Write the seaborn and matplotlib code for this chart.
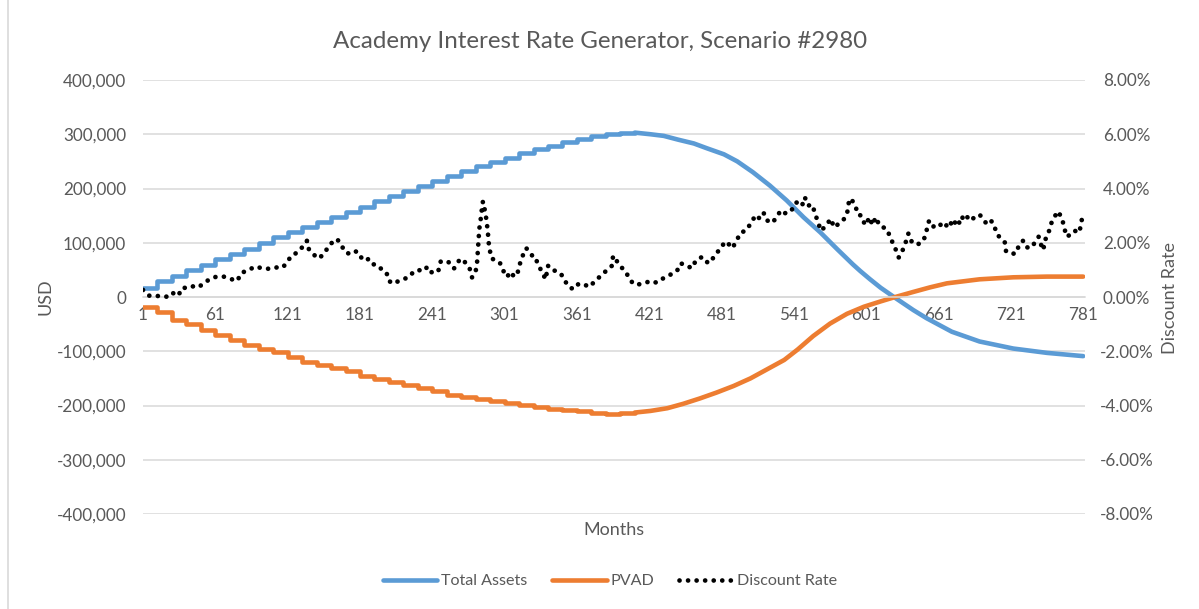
import numpy as np
import pandas as pd
import seaborn as sns
import matplotlib
matplotlib.use("Agg")
import matplotlib.pyplot as plt
from matplotlib.lines import Line2D
from matplotlib.ticker import FuncFormatter

# ---------------- data ----------------
title = "Academy Interest Rate Generator, Scenario #2980"
x_ticks = [1, 61, 121, 181, 241, 301, 361, 421, 481, 541, 601, 661, 721, 781]

# Total Assets: yearly step values (years 0..33, month 1 + 12*k)
assets_step_months = [1 + 12 * k for k in range(34)]
assets_step_values = [17000, 29500, 39000, 49500, 59500, 70000, 79000, 88500, 99000, 110000,
                      119000, 128500, 138000, 148000, 156500, 166000, 176500, 185500, 195000, 204000,
                      213000, 222500, 232000, 241000, 249000, 257000, 265000, 272000, 278000, 286000,
                      292000, 296000, 300000, 302000]
# Total Assets: payout phase
assets_tail_months = [409, 422, 433, 445, 458, 469, 483, 494, 507, 521, 535, 549, 563, 577, 590,
                      596, 604, 613, 624, 640, 651, 672, 695, 723, 751, 781]
assets_tail_values = [303000, 300000, 297000, 290000, 283000, 274000, 263000, 250000, 230000, 205500,
                      178000, 147000, 119000, 88000, 60000, 48000, 33000, 17000, 0, -24000,
                      -39000, -64000, -82000, -95000, -103000, -109000]

# PVAD: yearly step values then smooth rise
pvad_step_months = [1 + 12 * k for k in range(34)]
pvad_step_values = [-18500, -27700, -41600, -50000, -61000, -70000, -79000, -88000, -96000, -102000,
                    -111000, -119000, -125000, -131000, -137000, -145000, -151000, -157000, -163000, -168000,
                    -174000, -180000, -184000, -188000, -192000, -195000, -199000, -203000, -207000, -209000,
                    -211000, -214000, -215000, -214000]
pvad_tail_months = [409, 422, 436, 449, 463, 477, 491, 505, 519, 533, 544, 557, 571, 585, 599,
                    613, 624, 640, 654, 668, 695, 723, 751, 781]
pvad_tail_values = [-213000, -210000, -205000, -197000, -187000, -176000, -164000, -150000, -133000,
                    -116000, -97000, -72000, -49000, -31000, -18000, -8100, -700, 9300, 17800,
                    25200, 32600, 36300, 37600, 37600]

# Discount rate (%)
rate_months = [1, 6, 12, 17, 23, 26, 30, 34, 38, 43, 47, 54, 58, 62, 68, 75, 79, 83, 87, 94,
               101, 106, 112, 117, 121, 124, 129, 133, 137, 138, 142, 147, 152, 155, 158, 162, 165, 169, 172, 176,
               180, 182, 185, 188, 191, 195, 199, 203, 205, 209, 213, 217, 222, 226, 231, 234, 237, 241, 246, 248,
               254, 259, 264, 267, 270, 272, 274, 277, 278, 279, 280, 281, 282, 283, 285, 286, 287, 288, 290, 294,
               297, 300, 303, 306, 309, 312, 314, 317, 319, 324, 326, 329, 332, 335, 337, 340, 344, 348, 350, 353,
               356, 360, 362, 366, 371, 377, 382, 386, 390, 391, 394, 398, 401, 405, 408, 413, 417, 422, 427, 431,
               438, 444, 447, 452, 456, 460, 465, 470, 472, 477, 480, 485, 488, 490, 493, 497, 501, 503, 506, 509,
               513, 516, 518, 523, 527, 530, 533, 537, 539, 542, 546, 548, 550, 553, 556, 559, 561, 564, 567, 572,
               574, 579, 582, 585, 587, 589, 592, 594, 597, 600, 604, 606, 609, 612, 615, 618, 621, 624, 626, 628,
               631, 634, 636, 639, 643, 647, 649, 651, 653, 656, 660, 664, 666, 670, 673, 676, 679, 681, 683, 687,
               691, 695, 698, 700, 703, 707, 709, 713, 716, 717, 721, 725, 728, 731, 733, 737, 740, 744, 746, 748,
               749, 752, 754, 757, 760, 763, 765, 767, 772, 774, 778, 779, 781]
rate_values = [0.26, 0.05, 0.04, 0.03, 0.00, 0.14, 0.04, 0.35, 0.32, 0.40, 0.36, 0.59, 0.69, 0.75, 0.75, 0.65, 0.59, 0.90, 0.96, 1.12,
               1.05, 1.04, 1.09, 1.09, 1.31, 1.52, 1.64, 1.83, 2.07, 1.80, 1.58, 1.42, 1.64, 1.89, 2.01, 2.14, 1.95, 1.64, 1.60, 1.70,
               1.64, 1.46, 1.33, 1.40, 1.21, 1.19, 1.02, 0.90, 0.59, 0.49, 0.59, 0.65, 0.75, 0.96, 0.99, 0.96, 1.12, 0.88, 0.96, 1.31,
               1.31, 1.05, 1.40, 1.36, 1.15, 1.05, 0.72, 0.96, 1.17, 1.85, 2.51, 2.81, 3.19, 3.52, 3.12, 2.81, 2.44, 1.90, 1.43, 1.33,
               1.27, 0.96, 0.74, 0.93, 0.74, 0.93, 1.27, 1.64, 1.80, 1.52, 1.51, 1.17, 0.93, 0.65, 1.15, 0.99, 0.96, 0.84, 0.65, 0.47,
               0.32, 0.32, 0.47, 0.49, 0.37, 0.62, 0.84, 0.99, 1.15, 1.52, 1.33, 1.09, 0.96, 0.65, 0.47, 0.47, 0.51, 0.59, 0.53, 0.65,
               0.81, 0.96, 1.24, 1.17, 1.06, 1.36, 1.48, 1.24, 1.33, 1.60, 1.83, 2.05, 1.89, 1.80, 2.05, 2.38, 2.44, 2.57, 2.75, 3.02,
               2.88, 3.09, 2.84, 2.73, 2.96, 3.19, 3.09, 3.10, 3.19, 3.46, 3.53, 3.40, 3.68, 3.37, 3.41, 3.04, 2.72, 2.44, 2.63, 2.88,
               2.57, 2.72, 2.84, 3.04, 3.62, 3.58, 3.37, 3.04, 3.00, 2.65, 2.94, 2.65, 2.94, 2.63, 2.57, 2.51, 2.20, 1.89, 1.70, 1.46,
               1.70, 2.05, 2.34, 2.01, 1.93, 2.01, 2.14, 2.44, 2.79, 2.57, 2.72, 2.63, 2.54, 2.81, 2.59, 2.88, 2.69, 2.94, 3.06, 2.81,
               2.94, 3.04, 2.88, 2.75, 2.88, 2.69, 2.34, 2.14, 2.01, 1.68, 1.60, 1.60, 1.93, 2.07, 1.85, 1.80, 1.95, 2.22, 1.93, 1.73,
               2.07, 2.32, 2.67, 2.94, 3.16, 2.94, 2.63, 2.23, 2.32, 2.44, 2.38, 2.69, 3.06]

# ---------------- style ----------------
sns.set_theme(style="white")
plt.rcParams["font.family"] = ["Lato", "DejaVu Sans"]
TXT = "#595959"
GRID = "#D9D9D9"
BLUE = "#5B9BD5"
ORANGE = "#ED7D31"

W, H = 1199, 609
fig = plt.figure(figsize=(W / 100, H / 100), dpi=100)
ax = fig.add_axes([143 / W, 1 - 514 / H, (1085 - 143) / W, (514 - 80) / H])
ax2 = ax.twinx()

LW = 3.3
DOT_LW = 3.4
DOT_STYLE = (0, (0.01, 1.8))
sns.lineplot(x=assets_step_months + [409], y=assets_step_values + [assets_step_values[-1]], ax=ax,
             color=BLUE, lw=LW, drawstyle="steps-post", solid_joinstyle="round", sort=False)
sns.lineplot(x=assets_tail_months, y=assets_tail_values, ax=ax, color=BLUE, lw=LW,
             solid_capstyle="round", sort=False)
sns.lineplot(x=pvad_step_months + [409], y=pvad_step_values + [pvad_step_values[-1]], ax=ax,
             color=ORANGE, lw=LW, drawstyle="steps-post", solid_joinstyle="round", sort=False)
sns.lineplot(x=pvad_tail_months, y=pvad_tail_values, ax=ax, color=ORANGE, lw=LW,
             solid_capstyle="round", sort=False)

ax2.plot(rate_months, rate_values, color="black", lw=DOT_LW, linestyle=DOT_STYLE,
         dash_capstyle="round")

ax.set_xlim(1, 782.5)
ax.set_ylim(-400000, 400000)
ax2.set_ylim(-8, 8)
ax.set_yticks(np.arange(-400000, 400001, 100000))
ax2.set_yticks(np.arange(-8, 8.01, 2))
ax.yaxis.set_major_formatter(FuncFormatter(lambda v, p: f"{int(v):,}"))
ax2.yaxis.set_major_formatter(FuncFormatter(lambda v, p: f"{v:.2f}%"))
ax.set_xticks(x_ticks)
ax.set_xticklabels([str(t) for t in x_ticks])

ax.grid(axis="y", color=GRID, lw=1.1)
ax.grid(axis="x", visible=False)
ax2.grid(False)
for s in ["top", "left", "right"]:
    ax.spines[s].set_visible(False)
for s in ax2.spines.values():
    s.set_visible(False)
ax.spines["bottom"].set_position(("data", 0))
ax.spines["bottom"].set_color(GRID)
ax.spines["bottom"].set_linewidth(1.1)

FS = 12.3
ax.tick_params(axis="x", length=0, pad=7, labelsize=FS, labelcolor=TXT)
ax.tick_params(axis="y", length=0, pad=12, labelsize=FS, labelcolor=TXT)
ax2.tick_params(axis="y", length=0, pad=30, labelsize=FS, labelcolor=TXT)
for lbl in ax2.get_yticklabels():
    lbl.set_horizontalalignment("center")
ax.set_xlabel("")
ax.set_ylabel("")
ax2.set_ylabel("")

fig.text(600 / W, 1 - 42 / H, title, ha="center", va="center", fontsize=17.4, color=TXT)
fig.text(614 / W, 1 - 530 / H, "Months", ha="center", va="center", fontsize=13, color=TXT)
fig.text(45 / W, 1 - 297 / H, "USD", ha="center", va="center", rotation=90, fontsize=13, color=TXT)
fig.text(1170 / W, 1 - 298 / H, "Discount Rate", ha="center", va="center", rotation=90, fontsize=13, color=TXT)

handles = [Line2D([], [], color=BLUE, lw=LW),
           Line2D([], [], color=ORANGE, lw=LW),
           Line2D([], [], color="black", lw=DOT_LW, linestyle=DOT_STYLE, dash_capstyle="round")]
fig.legend(handles, ["Total Assets", "PVAD", "Discount Rate"], loc="center",
           bbox_to_anchor=(610 / W, 1 - 581 / H), ncol=3, frameon=False, fontsize=11.6,
           labelcolor=TXT, handlelength=3.4, handletextpad=0.25, columnspacing=1.5)

fig.add_artist(Line2D([8 / W, 8 / W], [0, 1], color=GRID, lw=1.2))

fig.savefig("out.png", dpi=100)
